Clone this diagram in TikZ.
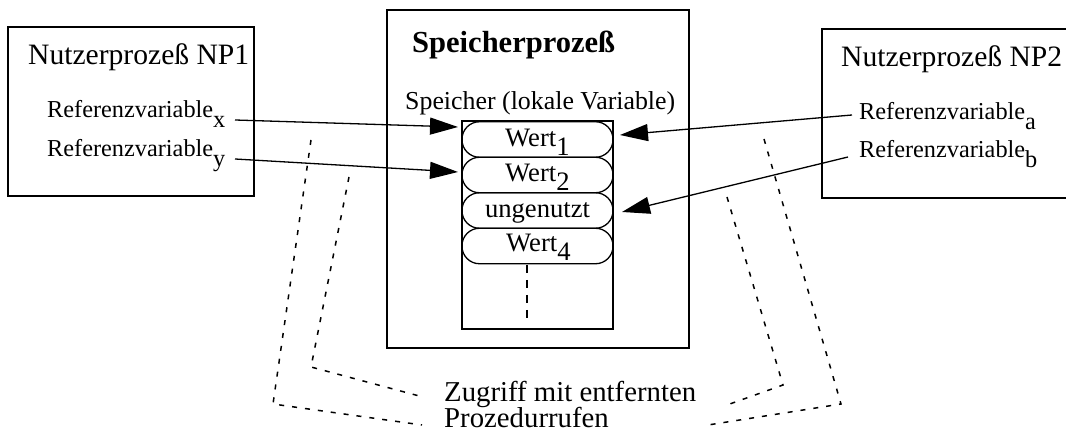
\documentclass[tikz,border=0pt]{standalone}
\usepackage{fontspec}
\setmainfont{Liberation Serif}
\usepackage{graphicx}
\usetikzlibrary{arrows.meta}
\newlength{\tw}
\newcommand{\mkscale}[3]{\settowidth{\tw}{\normalfont #3}\pgfmathsetmacro#1{#2/\tw}\global\let#1#1}
\newcommand{\lowsub}[1]{\raisebox{-0.4em}{#1}}
\newcommand{\pillsub}[1]{\raisebox{-0.32em}{#1}}
\begin{document}
\mkscale{\stitle}{221}{Nutzerprozeß NP1}%
\mkscale{\sspb}{203}{\bfseries Speicherprozeß}%
\mkscale{\sspl}{270}{Speicher (lokale Variable)}%
\mkscale{\sref}{166}{Referenzvariable}%
\mkscale{\spill}{105}{ungenutzt}%
\mkscale{\szug}{252}{Zugriff mit entfernten}%
\begin{tikzpicture}[x=1pt,y=-1pt,
  box/.style={draw,line width=1.6pt,inner sep=0pt,outer sep=0pt},
  inbox/.style={draw,line width=1.3pt,inner sep=0pt,outer sep=0pt},
  pill/.style={draw,line width=1.3pt,rounded corners=17.5pt,minimum width=151pt,minimum height=35.5pt,inner sep=0pt,outer sep=0pt},
  txt/.style={anchor=base west,inner sep=0pt},
  ref/.style={-{Triangle[length=28pt,width=17pt]},line width=1.3pt},
  rpc/.style={line width=1.5pt,dash pattern=on 5pt off 8pt},
  mem/.style={line width=1.4pt,dash pattern=on 8pt off 7pt}]
\useasboundingbox (0,0) rectangle (1066,435);
% boxes
\node[box,minimum width=246pt,minimum height=169pt] (np1) at (131,111.5) {};
\node[box,minimum width=302pt,minimum height=338pt] (sp) at (538,179) {};
\node[box,minimum width=258pt,minimum height=169pt] (np2) at (951,113.5) {};
\node[inbox,minimum width=151pt,minimum height=208pt] (mem) at (537.5,225) {};
% pills
\node[pill] (p1) at (537.5,139.5) {};
\node[pill] (p2) at (537.5,175) {};
\node[pill] (p3) at (537.5,210.5) {};
\node[pill] (p4) at (537.5,246) {};
% titles
\node[txt] (t1) at (28,65) {\scalebox{\stitle}{Nutzerprozeß NP1}};
\node[txt] (t2) at (841,67) {\scalebox{\stitle}{Nutzerprozeß NP2}};
\node[txt] (t3) at (412,53) {\scalebox{\sspb}{\bfseries Speicherprozeß}};
\node[txt] (t4) at (405,110) {\scalebox{\sspl}{Speicher (lokale Variable)}};
% reference variables
\node[txt] (rx) at (47,118) {\scalebox{\sref}{Referenzvariable\lowsub{x}}};
\node[txt] (ry) at (47,157) {\scalebox{\sref}{Referenzvariable\lowsub{y}}};
\node[txt] (ra) at (859,120) {\scalebox{\sref}{Referenzvariable\lowsub{a}}};
\node[txt] (rb) at (859,158) {\scalebox{\sref}{Referenzvariable\lowsub{b}}};
% pill texts
\node[txt] (w1) at (505,147) {\scalebox{\spill}{Wert\pillsub{1}}};
\node[txt] (w2) at (505,182) {\scalebox{\spill}{Wert\pillsub{2}}};
\node[anchor=base,inner sep=0pt] (w3) at (537.5,218) {\scalebox{\spill}{ungenutzt}};
\node[txt] (w4) at (506,252) {\scalebox{\spill}{Wert\pillsub{4}}};
% caption
\node[txt] (z1) at (444,402) {\scalebox{\szug}{Zugriff mit entfernten}};
\node[txt] (z2) at (444,428) {\scalebox{\szug}{Prozedurrufen}};
% memory continuation
\coordinate (m1) at (527,265);
\coordinate (m2) at (527,318);
\draw[mem] (m1) -- (m2);
% arrows
\coordinate (sx) at (235,120); \coordinate (ex) at (458,127);
\coordinate (sy) at (235,159); \coordinate (ey) at (458,172);
\coordinate (sa) at (852,115); \coordinate (ea) at (620,135);
\coordinate (sb) at (848,157); \coordinate (eb) at (622,212);
\draw[ref] (sx) -- (ex);
\draw[ref] (sy) -- (ey);
\draw[ref] (sa) -- (ea);
\draw[ref] (sb) -- (eb);
% dashed brackets
\coordinate (lo1) at (311,140); \coordinate (lo2) at (273,404); \coordinate (lo3) at (422,425);
\coordinate (li1) at (349,177); \coordinate (li2) at (311,367); \coordinate (li3) at (423,397);
\coordinate (ri1) at (727,197); \coordinate (ri2) at (783,385); \coordinate (ri3) at (727,405);
\coordinate (ro1) at (764,139); \coordinate (ro2) at (841,404); \coordinate (ro3) at (708,425);
\draw[rpc] (lo1) -- (lo2) -- (lo3);
\draw[rpc] (li1) -- (li2) -- (li3);
\draw[rpc] (ri1) -- (ri2) -- (ri3);
\draw[rpc] (ro1) -- (ro2) -- (ro3);
\end{tikzpicture}
\end{document}
